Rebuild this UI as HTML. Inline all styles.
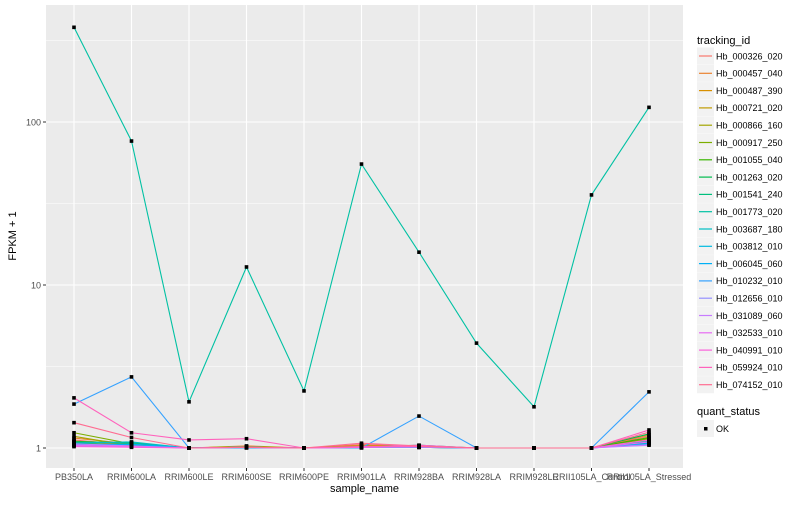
<!DOCTYPE html>
<html><head><meta charset="utf-8"><style>
body{margin:0;background:#fff;font-family:"Liberation Sans",sans-serif;}
svg text{font-family:"Liberation Sans",sans-serif;}
</style></head><body>
<svg id="chart" width="800" height="500" xmlns="http://www.w3.org/2000/svg"></svg>
<script>
const categories=["PB350LA","RRIM600LA","RRIM600LE","RRIM600SE","RRIM600PE","RRIM901LA","RRIM928BA","RRIM928LA","RRIM928LE","RRII105LA_Control","RRII105LA_Stressed"];
const seriesIds=["Hb_000326_020","Hb_000457_040","Hb_000487_390","Hb_000721_020","Hb_000866_160","Hb_000917_250","Hb_001055_040","Hb_001263_020","Hb_001541_240","Hb_001773_020","Hb_003687_180","Hb_003812_010","Hb_006045_060","Hb_010232_010","Hb_012656_010","Hb_031089_060","Hb_032533_010","Hb_040991_010","Hb_059924_010","Hb_074152_010"];
const colors=["#F8766D","#EA8331","#D89000","#C09B00","#A3A500","#7CAE00","#39B600","#00BB4E","#00BF7D","#00C1A3","#00BFC4","#00BAE0","#00B0F6","#35A2FF","#9590FF","#C77CFF","#E76BF3","#FA62DB","#FF62BC","#FF6C91"];
const values=[
[1.12,1.04,1,1.02,1,1.05,1.03,1,1,1,1.18],
[1.15,1.06,1,1.03,1,1.04,1.02,1,1,1,1.2],
[1.10,1.05,1,1.01,1,1.02,1.01,1,1,1,1.15],
[1.08,1.04,1,1.02,1,1.03,1.02,1,1,1,1.12],
[1.18,1.03,1,1.01,1,1.02,1.01,1,1,1,1.1],
[1.24,1.06,1,1.02,1,1.02,1.02,1,1,1,1.14],
[1.10,1.07,1,1.01,1,1.01,1.02,1,1,1,1.16],
[1.06,1.05,1,1.01,1,1.01,1.04,1,1,1,1.22],
[1.09,1.08,1,1.01,1,1.01,1.02,1,1,1,1.08],
[381,76.4,1.92,12.9,2.24,55.2,15.9,4.4,1.79,35.7,123],
[1.07,1.09,1,1.01,1,1.01,1.01,1,1,1,1.1],
[1.05,1.06,1,1.01,1,1.01,1.01,1,1,1,1.07],
[1.04,1.05,1,1.01,1,1.01,1.01,1,1,1,1.06],
[1.86,2.73,1,1,1,1,1.57,1,1,1,2.21],
[1.03,1.02,1,1.01,1,1.01,1.01,1,1,1,1.05],
[1.06,1.03,1,1.01,1,1.01,1.03,1,1,1,1.04],
[1.04,1.02,1,1.01,1,1.01,1.02,1,1,1,1.09],
[1.02,1.01,1,1.01,1,1.01,1.04,1,1,1,1.12],
[2.03,1.24,1.12,1.14,1,1.02,1.02,1,1,1,1.29],
[1.43,1.16,1,1.01,1,1.07,1.03,1,1,1,1.25]];
const yTicks=[1,10,100];
const yMinor=[Math.sqrt(10),Math.sqrt(1000),Math.sqrt(100000)];

const NS="http://www.w3.org/2000/svg";
const svg=document.getElementById('chart');
function mk(t,a,p){const e=document.createElementNS(NS,t);for(const k in a)e.setAttribute(k,a[k]);(p||svg).appendChild(e);return e;}
const L=46,R=683,T=5,B=468;
function xs(i){return 74+i*57.5;}
function ys(v){return 448-163*Math.log10(v);}

const panel=mk('rect',{x:L,y:T,width:R-L,height:B-T,fill:'#EBEBEB'});


yMinor.forEach(v=>{const y=ys(v);if(y>T&&y<B){const g=mk('line',{x1:L,x2:R,y1:y,y2:y,stroke:'#fff','stroke-width':0.5});

}});
yTicks.forEach(v=>{const y=ys(v);const g=mk('line',{x1:L,x2:R,y1:y,y2:y,stroke:'#fff','stroke-width':1.1});


const tk=mk('line',{x1:L-3,x2:L,y1:y,y2:y,stroke:'#333','stroke-width':1});


const t=mk('text',{x:L-5,y:y+3.5,'text-anchor':'end','font-size':9,fill:'#4D4D4D'});t.textContent=String(v);

});
categories.forEach((c,i)=>{const x=xs(i);const g=mk('line',{x1:x,x2:x,y1:T,y2:B,stroke:'#fff','stroke-width':1.1});


const tk=mk('line',{x1:x,x2:x,y1:B,y2:B+3,stroke:'#333','stroke-width':1});


const t=mk('text',{x:x,y:B+12,'text-anchor':'middle','font-size':9,fill:'#4D4D4D'});t.textContent=c;

});
values.forEach((s,k)=>{const pts=s.map((v,i)=>xs(i)+','+ys(v)).join(' ');
const pl=mk('polyline',{points:pts,fill:'none',stroke:colors[k],'stroke-width':1.1});

});
values.forEach((s,k)=>{s.forEach((v,i)=>{const p=mk('rect',{x:xs(i)-1.8,y:ys(v)-1.8,width:3.6,height:3.6,fill:'#000'});

});});
let t=mk('text',{x:(L+R)/2,y:492,'text-anchor':'middle','font-size':11,fill:'#000'});t.textContent='sample_name';


t=mk('text',{x:0,y:0,'text-anchor':'middle','font-size':11,fill:'#000',transform:'translate(16,236) rotate(-90)'});t.textContent='FPKM + 1';


t=mk('text',{x:697,y:44,'font-size':11,fill:'#000'});t.textContent='tracking_id';


seriesIds.forEach((id,k)=>{const y=56+k*17.3;
const g=mk('g',{});


mk('rect',{x:697,y:y-8.5,width:17,height:17,fill:'#F2F2F2'},g);
mk('line',{x1:699,x2:712,y1:y,y2:y,stroke:colors[k],'stroke-width':1.2},g);
const tx=mk('text',{x:716,y:y+3.3,'font-size':9,fill:'#000'},g);tx.textContent=id;});
t=mk('text',{x:697,y:415,'font-size':11,fill:'#000'});t.textContent='quant_status';


const g2=mk('g',{});


mk('rect',{x:697,y:420,width:17,height:17,fill:'#F2F2F2'},g2);
mk('rect',{x:704,y:427,width:3.5,height:3.5,fill:'#000'},g2);
const ok=mk('text',{x:716,y:432,'font-size':9,fill:'#000'},g2);ok.textContent='OK';
</script>
</body></html>
